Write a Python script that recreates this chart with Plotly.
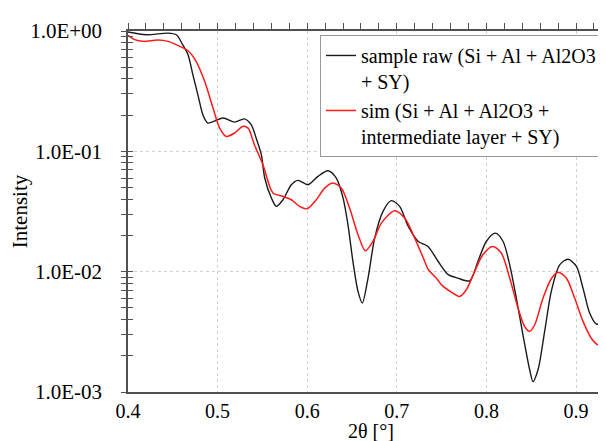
import plotly.graph_objects as go

# ---- data ----
raw_x = [0.400, 0.4204, 0.4446, 0.454, 0.461, 0.467, 0.4725, 0.478, 0.4837, 0.489,
         0.506, 0.519, 0.530, 0.5376, 0.543, 0.5488, 0.5526, 0.560, 0.5655, 0.573,
         0.5823, 0.5897, 0.6009, 0.612, 0.6232, 0.6325, 0.640, 0.6455, 0.651, 0.6567,
         0.6615, 0.6679, 0.6753, 0.6846, 0.6938, 0.7032, 0.7125, 0.7237, 0.7348, 0.746,
         0.7571, 0.768, 0.7814, 0.7906, 0.800, 0.810, 0.8185, 0.826, 0.8334, 0.8408,
         0.8483, 0.852, 0.8576, 0.865, 0.8724, 0.8818, 0.891, 0.9003, 0.9078, 0.9152,
         0.9227, 0.932, 0.9413]
raw_y = [0.98, 0.93, 0.96, 0.93, 0.77, 0.635, 0.43, 0.295, 0.20, 0.172,
         0.189, 0.175, 0.186, 0.166, 0.129, 0.094, 0.060, 0.041, 0.0349, 0.0396,
         0.0528, 0.0574, 0.0528, 0.062, 0.069, 0.060, 0.041, 0.0245, 0.0122, 0.00686,
         0.00548, 0.00885, 0.019, 0.0317, 0.0389, 0.0349, 0.0240, 0.0179, 0.0162, 0.0122,
         0.0095, 0.00885, 0.0084, 0.0122, 0.0179, 0.0209, 0.0179, 0.0114, 0.00603, 0.00299,
         0.00153, 0.00122, 0.00153, 0.00319, 0.00686, 0.0114, 0.0127, 0.0111, 0.0073, 0.00453,
         0.00367, 0.00374, 0.0034]

sim_x = [0.400, 0.4075, 0.4167, 0.4335, 0.4446, 0.4577, 0.467, 0.476, 0.4856, 0.4949,
         0.5023, 0.5097, 0.519, 0.528, 0.534, 0.541, 0.5507, 0.5618, 0.573, 0.5823,
         0.5916, 0.600, 0.6102, 0.6195, 0.6288, 0.638, 0.6473, 0.6567, 0.6649, 0.6735,
         0.6828, 0.6976, 0.7088, 0.720, 0.7311, 0.7348, 0.746, 0.7497, 0.7608, 0.770,
         0.7776, 0.7868, 0.796, 0.807, 0.8166, 0.826, 0.8353, 0.8427, 0.8483, 0.8539,
         0.8632, 0.8724, 0.880, 0.8892, 0.8985, 0.9078, 0.9171, 0.9245, 0.9338, 0.9413]
sim_y = [0.92, 0.847, 0.82, 0.84, 0.82, 0.746, 0.686, 0.56, 0.38, 0.229,
         0.156, 0.133, 0.142, 0.161, 0.156, 0.114, 0.077, 0.045, 0.0423, 0.0396,
         0.0349, 0.0333, 0.0396, 0.0495, 0.0545, 0.0495, 0.0338, 0.0203, 0.0149, 0.0179,
         0.0253, 0.0321, 0.0279, 0.019, 0.0122, 0.0105, 0.0085, 0.0078, 0.00676, 0.00623,
         0.00708, 0.0100, 0.0138, 0.0162, 0.0143, 0.00885, 0.00498, 0.0035, 0.00319, 0.00362,
         0.00603, 0.00874, 0.0099, 0.00885, 0.00603, 0.00386, 0.0028, 0.00247, 0.0026, 0.00267]

raw_name = "sample raw (Si + Al + Al2O3<br>+ SY)"
sim_name = "sim (Si + Al + Al2O3 +<br>intermediate layer + SY)"
x_title = "2θ [°]"
y_title = "Intensity"

x_tickvals = [0.4, 0.5, 0.6, 0.7, 0.8, 0.9]
x_ticktext = ["0.4", "0.5", "0.6", "0.7", "0.8", "0.9"]
x_minor = [round(0.4 + 0.02 * i, 2) for i in range(28)]
y_tickvals = [1e-3, 1e-2, 1e-1, 1.0]
y_ticktext = ["1.0E-03", "1.0E-02", "1.0E-01", "1.0E+00"]
y_minor = [k * d for d in (1e-3, 1e-2, 1e-1) for k in range(2, 10)]

X_RANGE = [0.4, 0.9424]
FONT = "Liberation Serif"
FS = 21
AX = "#505050"

fig = go.Figure()
fig.add_trace(go.Scatter(x=raw_x, y=raw_y, mode="lines", name=raw_name,
                         line=dict(color="#1a1a1a", width=1.4, shape="spline", smoothing=0.8)))
fig.add_trace(go.Scatter(x=sim_x, y=sim_y, mode="lines", name=sim_name,
                         line=dict(color="#ff1a1a", width=1.5, shape="spline", smoothing=0.8)))
# empty helper traces so overlay axes are drawn
fig.add_trace(go.Scatter(x=[], y=[], xaxis="x2", yaxis="y", showlegend=False))
fig.add_trace(go.Scatter(x=[], y=[], xaxis="x", yaxis="y2", showlegend=False))

fig.update_layout(
    width=606, height=441,
    margin=dict(l=120, r=0, t=23, b=57),
    paper_bgcolor="white", plot_bgcolor="white",
    font=dict(family=FONT, size=FS, color="black"),
    showlegend=True,
    legend=dict(x=0.395, y=0.989, xanchor="left", yanchor="top",
                bgcolor="white", bordercolor="#999999", borderwidth=1,
                font=dict(family=FONT, size=20, color="black"),
                valign="top", tracegroupgap=0, itemwidth=30),
    xaxis=dict(range=X_RANGE, tickvals=x_tickvals, ticktext=x_ticktext,
               showline=True, linecolor=AX, linewidth=1.5, ticks="",
               ticklabelstandoff=0,
               tickfont=dict(family=FONT, size=20, color="black"),
               showgrid=True, gridcolor="#d0d0d0", griddash="dot", gridwidth=1,
               zeroline=False),
    xaxis2=dict(range=X_RANGE, overlaying="x", side="top", tickvals=x_minor,
                showticklabels=False, ticks="outside", ticklen=6, tickcolor=AX,
                showline=True, linecolor=AX, linewidth=1.5, showgrid=False, zeroline=False),
    yaxis=dict(type="log", range=[-3, 0], tickvals=y_tickvals, ticktext=y_ticktext,
               showline=True, linecolor=AX, linewidth=1.5,
               ticks="outside", ticklen=5, tickcolor=AX, ticklabelstandoff=15,
               tickfont=dict(family=FONT, size=FS, color="black"),
               minor=dict(tickvals=y_minor, ticks="outside", ticklen=5, tickcolor=AX, showgrid=False),
               showgrid=True, gridcolor="#d0d0d0", griddash="dot", gridwidth=1,
               zeroline=False,
               title=dict(text=y_title, font=dict(family=FONT, size=FS), standoff=4)),
    yaxis2=dict(type="log", range=[-3, 0], overlaying="y", side="left",
                tickvals=y_tickvals + y_minor, showticklabels=False,
                ticks="inside", ticklen=5, tickcolor=AX,
                showline=False, showgrid=False, zeroline=False),
    annotations=[dict(text=x_title, xref="paper", yref="paper", x=0.5, y=0,
                      xanchor="center", yanchor="bottom", yshift=-51, showarrow=False,
                      borderpad=0,
                      font=dict(family=FONT, size=20, color="black"))],
)

fig.write_html("out.html")
